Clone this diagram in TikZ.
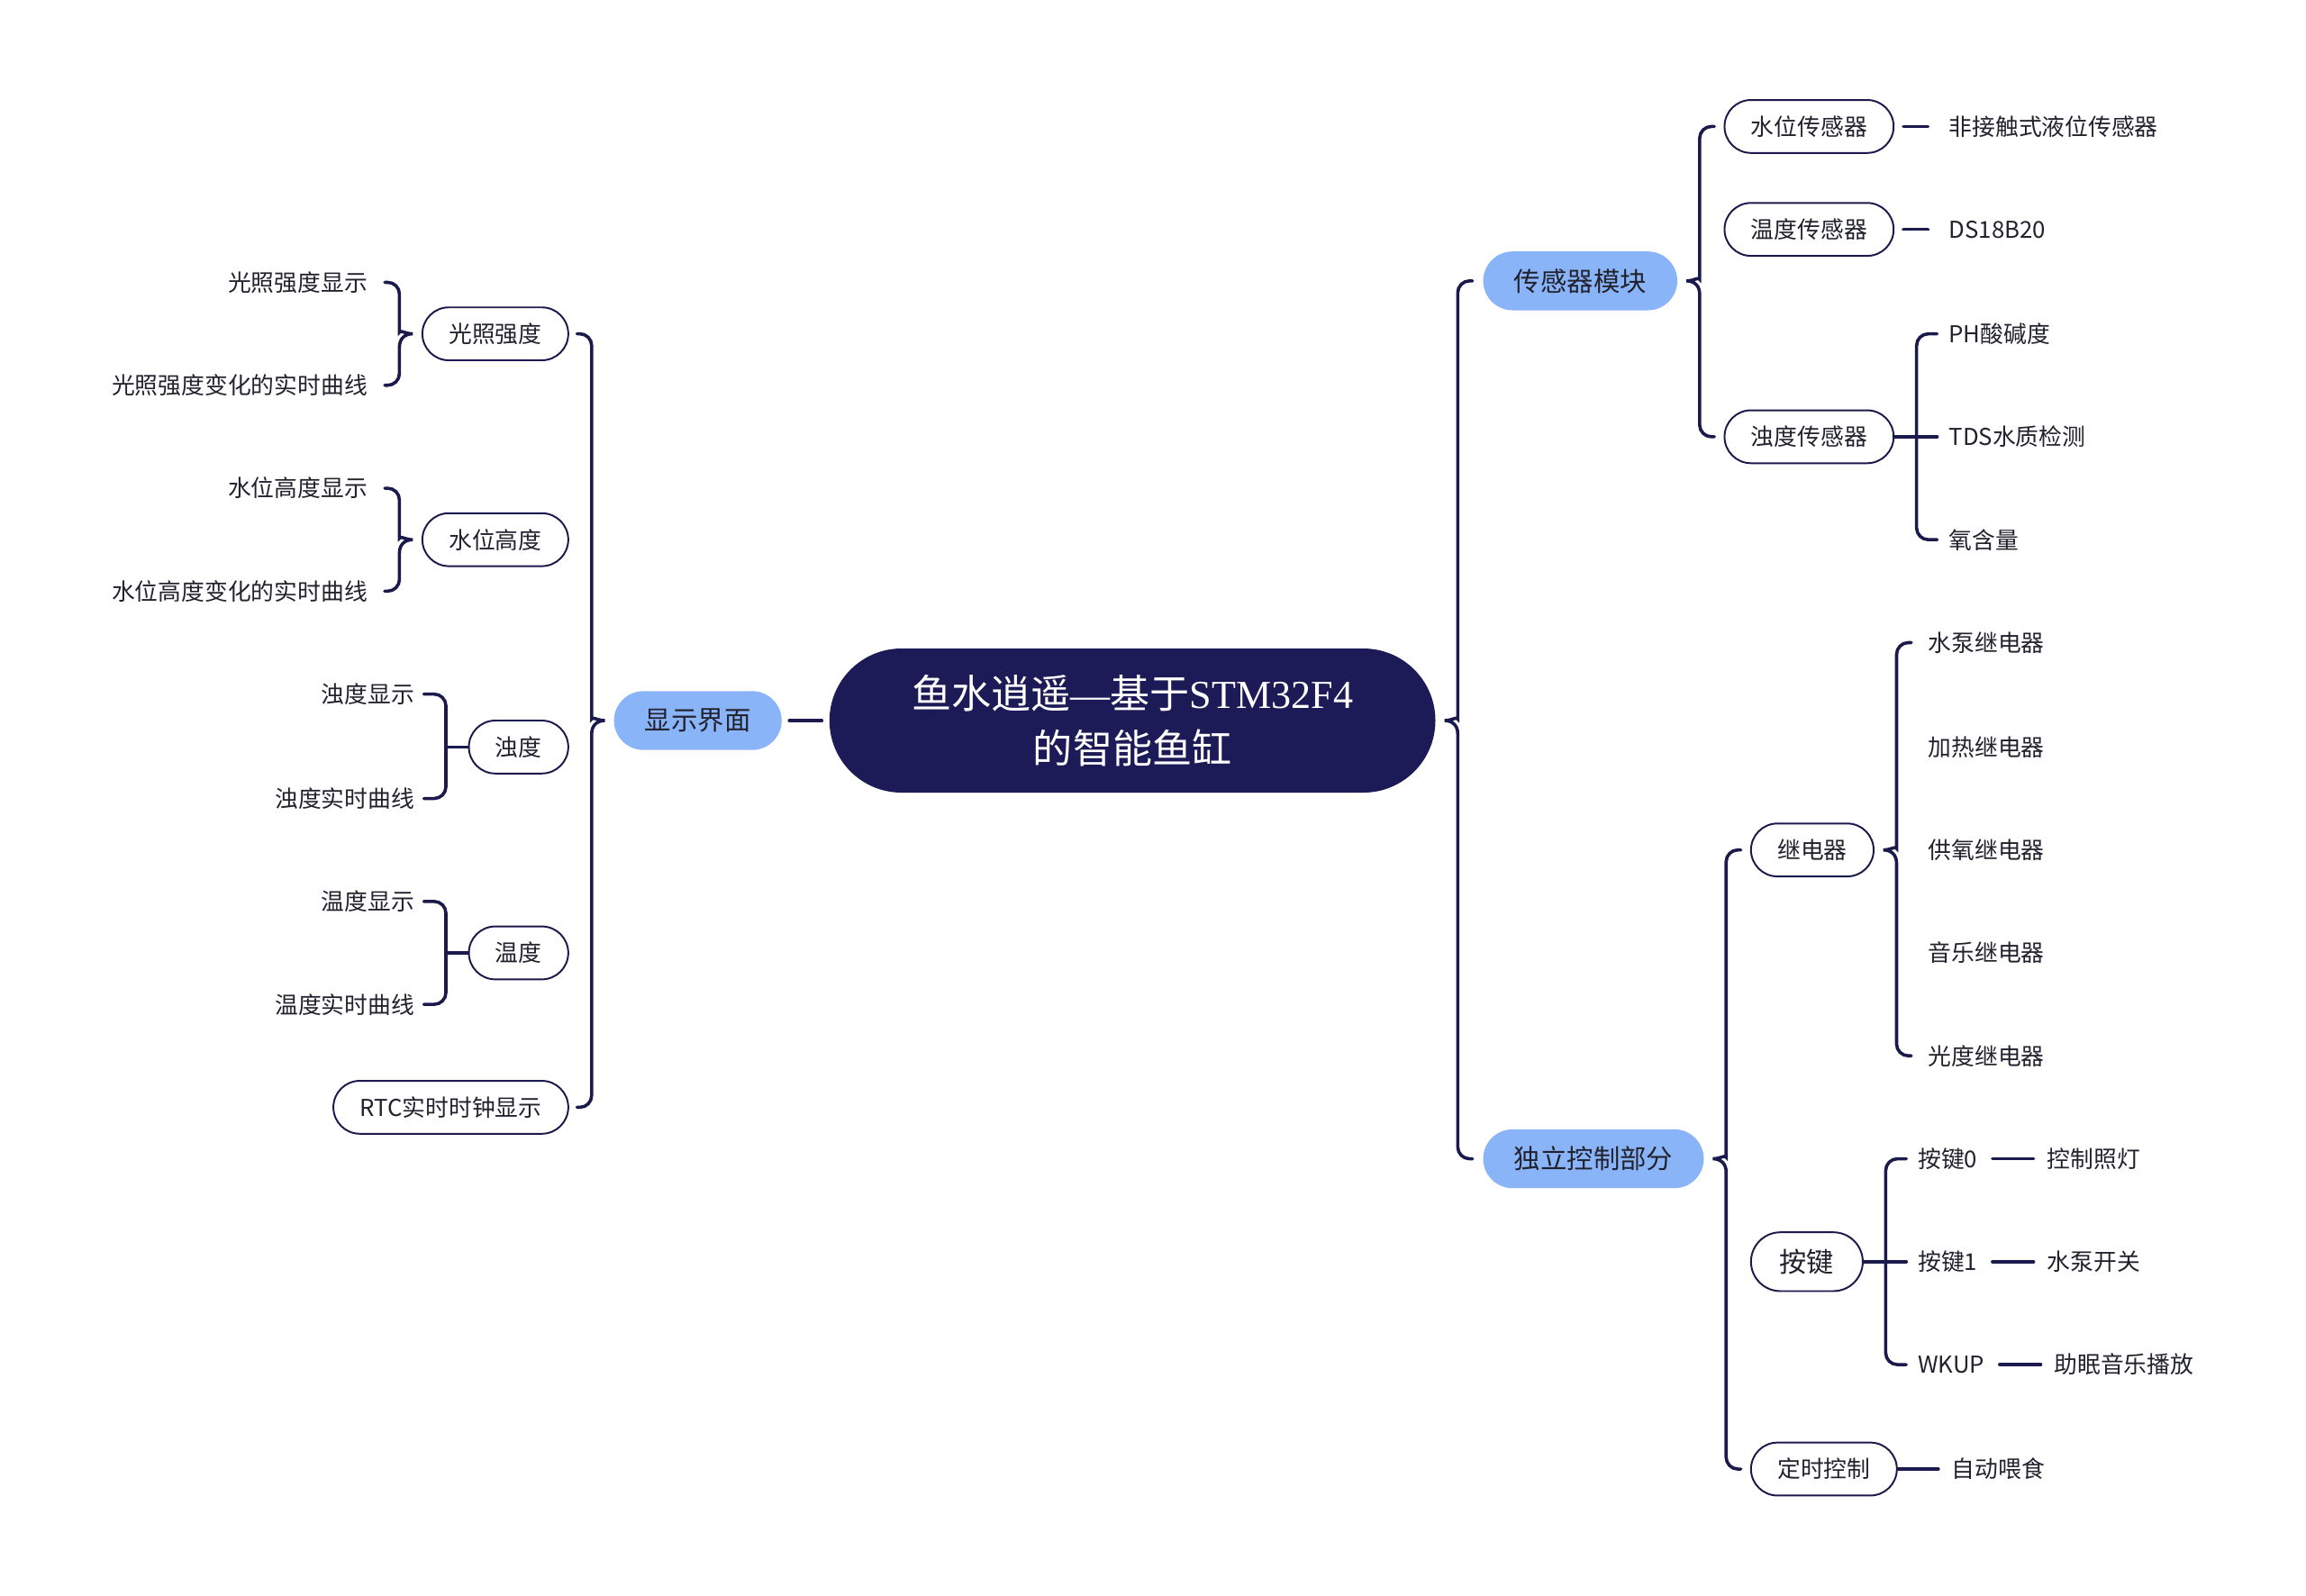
\documentclass[tikz,border=0pt]{standalone}
\usepackage{fontspec}
\setmainfont{Noto Sans CJK SC}
\newfontfamily\latinserif{Liberation Serif}
\usepackage{tikz}
\usetikzlibrary{positioning,calc}
\definecolor{fishNavy}{HTML}{1C1B57}
\definecolor{fishLine}{HTML}{1A1A4C}
\definecolor{fishBlue}{HTML}{8AB4F8}
\definecolor{fishText}{HTML}{22222E}
\tikzset{
  rootnode/.style={fill=fishNavy, text=white, align=center, rounded corners=49pt, minimum height=98pt, inner xsep=56pt, inner ysep=0pt, font=\fontsize{27}{37}\selectfont},
  topic/.style={fill=fishBlue, text=fishText, rounded corners=20pt, minimum height=40pt, inner xsep=21pt, inner ysep=0pt, font=\fontsize{18}{22}\selectfont},
  sub/.style={draw=fishLine, line width=1.2pt, fill=white, text=fishText, rounded corners=18pt, minimum height=36pt, inner xsep=18pt, inner ysep=0pt, font=\fontsize{15.8}{19}\selectfont},
  subbig/.style={sub, rounded corners=20pt, minimum height=40pt, inner xsep=19.5pt, font=\fontsize{18.5}{22}\selectfont},
  leaf/.style={text=fishText, inner sep=0pt, font=\fontsize{15.8}{19}\selectfont},
  link/.style={draw=fishLine, line width=2.2pt, line cap=round},
}
% curly brace, children on the right / on the left
\newcommand{\bracer}[3]{%
  \draw[link] let \p1=(#1.east), \p2=(#2.west), \p3=(#3.west) in
    (\x1+25pt,\y2) [rounded corners=8pt] -- (\x1+15pt,\y2) -- (\x1+15pt,\y1+9pt) [sharp corners]
    .. controls (\x1+15pt,\y1+3pt) and (\x1+11pt,\y1) .. (\x1+6pt,\y1)
    .. controls (\x1+11pt,\y1) and (\x1+15pt,\y1-3pt) .. (\x1+15pt,\y1-9pt)
    [rounded corners=8pt] -- (\x1+15pt,\y3) -- (\x1+25pt,\y3);}
\newcommand{\bracel}[3]{%
  \draw[link] let \p1=(#1.west), \p2=(#2.east), \p3=(#3.east) in
    (\x1-25pt,\y2) [rounded corners=8pt] -- (\x1-15pt,\y2) -- (\x1-15pt,\y1+9pt) [sharp corners]
    .. controls (\x1-15pt,\y1+3pt) and (\x1-11pt,\y1) .. (\x1-6pt,\y1)
    .. controls (\x1-11pt,\y1) and (\x1-15pt,\y1-3pt) .. (\x1-15pt,\y1-9pt)
    [rounded corners=8pt] -- (\x1-15pt,\y3) -- (\x1-25pt,\y3);}
% square bracket with a straight stem
\newcommand{\stemr}[4]{%
  \draw[link] let \p1=(#1.east), \p2=(#2.west), \p3=(#3.west) in
    (\x1+29pt,\y2) [rounded corners=8pt] -- (\x1+15pt,\y2) -- (\x1+15pt,\y3) -- (\x1+29pt,\y3);
  \draw[link] (#1.east) -- ++(#4,0);}
\newcommand{\steml}[4]{%
  \draw[link] let \p1=(#1.west), \p2=(#2.east), \p3=(#3.east) in
    (\x1-30pt,\y2) [rounded corners=8pt] -- (\x1-15pt,\y2) -- (\x1-15pt,\y3) -- (\x1-30pt,\y3);
  \draw[link] (#1.west) -- ++(-#4,0);}

\begin{document}
\begin{tikzpicture}[x=1pt, y=-1pt]
\useasboundingbox (0,0) rectangle (1568,1085);
% centre and main branches
\node[rootnode] (root) at (770,490) {鱼水逍遥{\latinserif —}基于{\latinserif STM32F4}\\的智能鱼缸};
\node[topic] (disp) at (474.5,490) {显示界面};
\node[topic] (sens) at (1074.5,191) {传感器模块};
\node[topic] (ctrl) at (1083.5,788) {独立控制部分};

% left side
\node[sub, anchor=east] (light) at (387,227) {光照强度};
\node[sub, anchor=east] (level) at (387,367) {水位高度};
\node[sub, anchor=east] (turb) at (387,508) {浊度};
\node[sub, anchor=east] (temp) at (387,648) {温度};
\node[sub, anchor=east] (rtc) at (387,753) {RTC实时时钟显示};
\node[leaf, anchor=east] (lshow) at (250,192) {光照强度显示};
\node[leaf, anchor=east] (lcurve) at (250,262) {光照强度变化的实时曲线};
\node[leaf, anchor=east] (vshow) at (250,332) {水位高度显示};
\node[leaf, anchor=east] (vcurve) at (250,402) {水位高度变化的实时曲线};
\node[leaf, anchor=east] (zshow) at (282,472) {浊度显示};
\node[leaf, anchor=east] (zcurve) at (282,543) {浊度实时曲线};
\node[leaf, anchor=east] (mshow) at (282,613) {温度显示};
\node[leaf, anchor=east] (mcurve) at (282,683) {温度实时曲线};

% sensors
\node[sub, anchor=west] (wsen) at (1172,86) {水位传感器};
\node[sub, anchor=west] (tsen) at (1172,156) {温度传感器};
\node[sub, anchor=west] (zsen) at (1172,297) {浊度传感器};
\node[leaf, anchor=west] (wl) at (1325,86) {非接触式液位传感器};
\node[leaf, anchor=west] (ds) at (1325,156) {DS18B20};
\node[leaf, anchor=west] (ph) at (1325,227) {PH酸碱度};
\node[leaf, anchor=west] (tds) at (1325,297) {TDS水质检测};
\node[leaf, anchor=west] (oxy) at (1325,367) {氧含量};

% control part
\node[sub, anchor=west] (relay) at (1190,578) {继电器};
\node[subbig, anchor=west] (key) at (1190,858) {按键};
\node[sub, anchor=west] (timer) at (1190,999) {定时控制};
\node[leaf, anchor=west] (rpump) at (1311,437) {水泵继电器};
\node[leaf, anchor=west] (rheat) at (1311,508) {加热继电器};
\node[leaf, anchor=west] (roxy) at (1311,578) {供氧继电器};
\node[leaf, anchor=west] (rmusic) at (1311,648) {音乐继电器};
\node[leaf, anchor=west] (rlight) at (1311,718) {光度继电器};
\node[leaf, anchor=west] (k0) at (1304,788) {按键0};
\node[leaf, anchor=west] (k1) at (1304,858) {按键1};
\node[leaf, anchor=west] (kw) at (1304,928) {WKUP};
\node[leaf, right=47pt of k0] (klamp) {控制照灯};
\node[leaf, right=47pt of k1] (kpump) {水泵开关};
\node[leaf, right=47pt of kw] (ksleep) {助眠音乐播放};
\node[leaf, anchor=west] (tfeed) at (1327,999) {自动喂食};

% connectors
\draw[link] ([xshift=-5pt]root.west) -- ([xshift=5pt]disp.east);
\bracer{root}{sens}{ctrl}
\bracel{disp}{light}{rtc}
\bracel{light}{lshow}{lcurve}
\bracel{level}{vshow}{vcurve}
\steml{turb}{zshow}{zcurve}{15}
\steml{temp}{mshow}{mcurve}{15}
\bracer{sens}{wsen}{zsen}
\draw[link] ([xshift=6pt]wsen.east) -- ([xshift=-14pt]wl.west);
\draw[link] ([xshift=6pt]tsen.east) -- ([xshift=-14pt]ds.west);
\stemr{zsen}{ph}{oxy}{29}
\bracer{ctrl}{relay}{timer}
\bracer{relay}{rpump}{rlight}
\stemr{key}{k0}{kw}{29}
\draw[link] ([xshift=10pt]k0.east) -- ([xshift=-9pt]klamp.west);
\draw[link] ([xshift=10pt]k1.east) -- ([xshift=-9pt]kpump.west);
\draw[link] ([xshift=10pt]kw.east) -- ([xshift=-9pt]ksleep.west);
\draw[link] (timer.east) -- ([xshift=-9pt]tfeed.west);
\end{tikzpicture}
\end{document}
